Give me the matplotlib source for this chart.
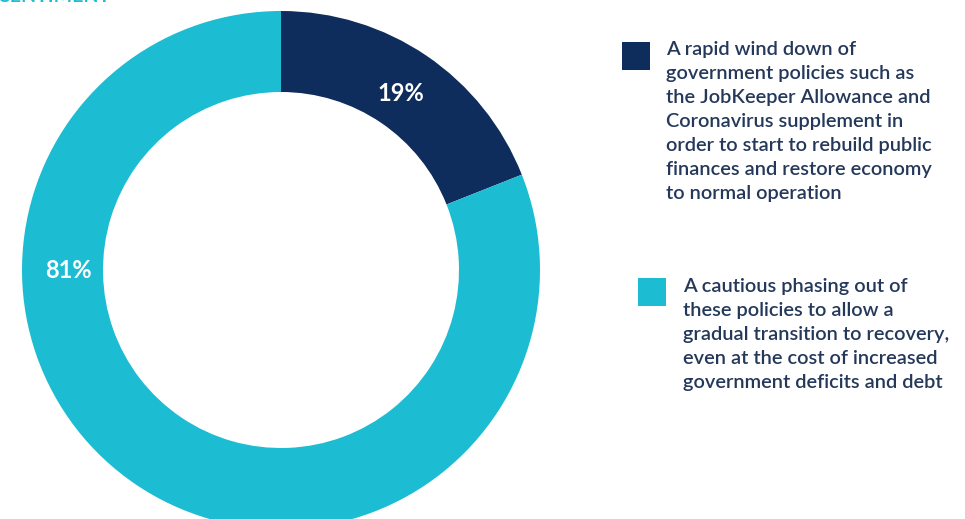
import numpy as np
import matplotlib
matplotlib.use("Agg")
import matplotlib.pyplot as plt

# Survey shares
options = [
    "A rapid wind down of\ngovernment policies such as\nthe JobKeeper Allowance and\n"
    "Coronavirus supplement in\norder to start to rebuild public\n"
    "finances and restore economy\nto normal operation",
    "A cautious phasing out of\nthese policies to allow a\ngradual transition to recovery,\n"
    "even at the cost of increased\ngovernment deficits and debt",
]
shares = [19, 81]
colors = ["#0e2d5c", "#1cbcd3"]
text_color = "#24385a"

W, H = 965, 519
fig = plt.figure(figsize=(W / 100, H / 100), dpi=100)
ax = fig.add_axes([0, 0, 1, 1])

cx, cy, R, r_in = 281, H - 270, 259, 178
wedges, _ = ax.pie(shares, colors=colors, startangle=90, counterclock=False,
                   center=(cx, cy), radius=R, frame=True,
                   wedgeprops=dict(width=R - r_in, linewidth=0))

ax.set_xlim(0, W)
ax.set_ylim(0, H)
ax.set_aspect("equal")
ax.axis("off")

# percentage labels in the ring
r_lab = 213
mid_angle = 90 - shares[0] / sum(shares) * 360 / 2
lab_angles = [mid_angle, 180]
for s, a in zip(shares, lab_angles):
    t = np.deg2rad(a)
    ax.text(cx + r_lab * np.cos(t), cy + r_lab * np.sin(t), f"{s}%",
            color="white", fontsize=17, fontweight="bold", family="Lato",
            ha="center", va="center")

# page heading running off the top edge
ax.text(0, H - 2, "SENTIMENT", color="#1cbcd3", fontsize=14,
        fontweight="bold", family="Lato", ha="left", va="baseline")

# legend
legend_pos = [(622, 42, 666, 41), (638, 278, 683, 278)]
for (sx, sy, tx, ty), c, label in zip(legend_pos, colors, options):
    ax.add_patch(plt.Rectangle((sx, H - sy - 28), 28, 28, color=c, lw=0))
    ax.text(tx, H - ty, label, color=text_color, fontsize=14.4,
            fontweight="semibold", family="Lato", ha="left", va="top",
            linespacing=1.5)

fig.savefig("out.png", dpi=100)
